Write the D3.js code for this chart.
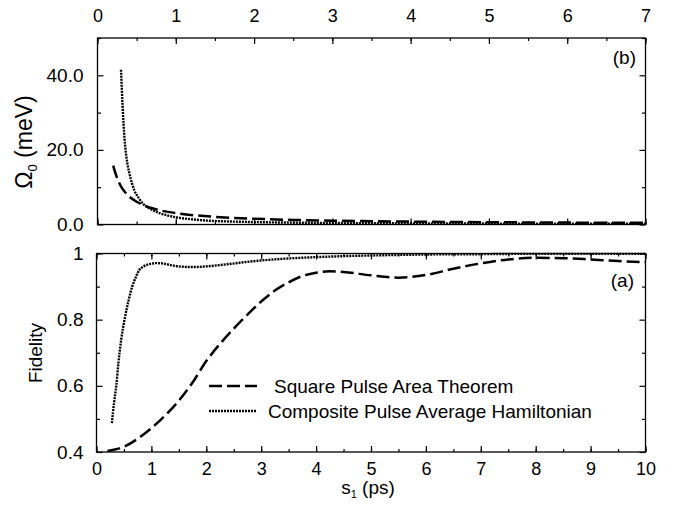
<!DOCTYPE html>
<html lang="en">
<head>
<meta charset="UTF-8">
<title>Fidelity and Omega0 vs s1</title>
<script src="https://cdn.jsdelivr.net/npm/d3@7/dist/d3.min.js"></script>
<style>
    body { margin: 0; background: #fff; }
    svg text { font-family: "Liberation Sans", Arial, Helvetica, sans-serif; fill: #000; }
</style>
</head>
<body>
<div id="chart"></div>
<script>
const width = 681;
const height = 512;

// panel (b): Omega_0 vs s1
const sqOmegaS   = [0.2, 0.25, 0.3, 0.35, 0.4, 0.5, 0.6, 0.7, 0.8, 1.0, 1.25, 1.5, 2.0, 2.5, 3.0, 3.5, 4.0, 4.5, 5.0, 5.5, 6.0, 6.5, 7.0];
const sqOmega    = [15.8, 12.5, 10.2, 8.7, 7.6, 6.1, 5.1, 4.35, 3.8, 3.05, 2.45, 2.05, 1.55, 1.23, 1.03, 0.88, 0.77, 0.68, 0.62, 0.56, 0.51, 0.47, 0.44];
const compOmegaS = [0.30, 0.32, 0.345, 0.37, 0.41, 0.47, 0.53, 0.58, 0.65, 0.71, 0.8, 0.9, 1.0, 1.2, 1.4, 1.7, 2.0, 2.5, 3.0, 4.0, 5.0, 6.0, 7.0];
const compOmega  = [41.5, 32, 23, 18, 13.5, 9.2, 7.0, 5.6, 4.5, 3.8, 3.0, 2.4, 1.95, 1.4, 1.05, 0.8, 0.65, 0.5, 0.4, 0.3, 0.25, 0.2, 0.18];

// panel (a): Fidelity vs s1
const sqFidS   = [0.2, 0.5, 0.8, 1.0, 1.25, 1.5, 1.75, 2.0, 2.25, 2.5, 2.75, 3.0, 3.25, 3.5, 3.75, 4.0, 4.25, 4.5, 5.0, 5.5, 6.0, 6.5, 7.0, 7.5, 8.0, 8.5, 9.0, 9.5, 10.0];
const sqFid    = [0.403, 0.416, 0.446, 0.472, 0.51, 0.555, 0.61, 0.675, 0.727, 0.773, 0.815, 0.855, 0.888, 0.913, 0.932, 0.942, 0.946, 0.944, 0.934, 0.927, 0.935, 0.954, 0.970, 0.982, 0.987, 0.986, 0.982, 0.977, 0.974];
const compFidS = [0.28, 0.32, 0.36, 0.40, 0.45, 0.51, 0.58, 0.65, 0.72, 0.78, 0.85, 0.92, 1.0, 1.09, 1.2, 1.35, 1.5, 1.75, 2.0, 2.3, 2.6, 3.0, 3.5, 4.0, 4.5, 5.0, 6.0, 7.0, 8.0, 9.0, 10.0];
const compFid  = [0.487, 0.55, 0.60, 0.67, 0.74, 0.80, 0.855, 0.90, 0.93, 0.95, 0.96, 0.966, 0.969, 0.971, 0.970, 0.965, 0.961, 0.959, 0.961, 0.966, 0.972, 0.979, 0.985, 0.989, 0.992, 0.994, 0.997, 0.998, 0.999, 0.999, 0.999];

// ticks
const topXTicks = [0, 1, 2, 3, 4, 5, 6, 7];
const omegaTicks = [0, 20, 40];
const omegaTickLabels = ["0.0", "20.0", "40.0"];
const botXTicks = [0, 1, 2, 3, 4, 5, 6, 7, 8, 9, 10];
const fidTicks = [0.4, 0.6, 0.8, 1.0];
const fidTickLabels = ["0.4", "0.6", "0.8", "1"];

const legendNames = ["Square Pulse Area Theorem", "Composite Pulse Average Hamiltonian"];

const dashStyle = "13,5";
const dotStyle = "2,1";

const svg = d3.select('#chart').append('svg')
    .attr('width', width)
    .attr('height', height);

// scales
const xB = d3.scaleLinear().domain([0, 7]).range([97.5, 645.5]);
const yB = d3.scaleLinear().domain([0, 50]).range([224.5, 38]);
const xA = d3.scaleLinear().domain([0, 10]).range([96.5, 645.5]);
const yA = d3.scaleLinear().domain([0.4, 1.0]).range([452, 253.5]);

function halves(lo, hi) {
    const out = [];
    for (let v = lo; v <= hi + 1e-9; v += 0.5) out.push(+v.toFixed(2));
    return out;
}

// inward ticks, drawn with d3 axes; domain path removed
function tickAxis(axisFn, scale, ticks, size, tr) {
    const g = svg.append('g')
        .attr('transform', tr)
        .call(axisFn(scale).tickValues(ticks).tickSize(-size).tickFormat(''));
    g.select('.domain').remove();
    g.selectAll('.tick line').attr('stroke', '#000').attr('stroke-width', 1.2);
    return g;
}

function labelAxis(axisFn, scale, ticks, labels, pad, tr, fs) {
    const g = svg.append('g')
        .attr('transform', tr)
        .call(axisFn(scale).tickValues(ticks).tickSize(-6).tickPadding(pad)
            .tickFormat((d, i) => labels[i]));
    g.attr('font-size', fs).attr('font-family', '"Liberation Sans", Arial, sans-serif');
    g.select('.domain').remove();
    g.selectAll('.tick line').attr('stroke', '#000').attr('stroke-width', 1.2);
    g.selectAll('.tick text').attr('font-size', fs).style('font-size', fs + 'px').attr('fill', '#000');
    return g;
}

// ---- panel (b)
svg.append('rect')
    .attr('x', xB(0)).attr('y', yB(50))
    .attr('width', xB(7) - xB(0)).attr('height', yB(0) - yB(50))
    .attr('fill', 'none').attr('stroke', '#000').attr('stroke-width', 1.3);

labelAxis(d3.axisTop, xB, topXTicks, topXTicks.map(String), 16, `translate(0,${yB(50)})`, 18);
tickAxis(d3.axisTop, xB, halves(0, 7), 3, `translate(0,${yB(50)})`);
tickAxis(d3.axisBottom, xB, topXTicks, 6, `translate(0,${yB(0)})`);
tickAxis(d3.axisBottom, xB, halves(0, 7), 3, `translate(0,${yB(0)})`);
labelAxis(d3.axisLeft, yB, omegaTicks, omegaTickLabels, 14, `translate(${xB(0)},0)`, 19);
tickAxis(d3.axisLeft, yB, [10, 30, 50], 3.5, `translate(${xB(0)},0)`);
tickAxis(d3.axisRight, yB, omegaTicks, 6, `translate(${xB(7)},0)`);
tickAxis(d3.axisRight, yB, [10, 30, 50], 3.5, `translate(${xB(7)},0)`);

const lineB = d3.line().x(d => xB(d[0])).y(d => yB(d[1])).curve(d3.curveMonotoneX);
svg.append('path')
    .attr('d', lineB(sqOmegaS.map((s, i) => [s, sqOmega[i]])))
    .attr('fill', 'none').attr('stroke', '#000').attr('stroke-width', 2.5)
    .attr('stroke-dasharray', dashStyle);
svg.append('path')
    .attr('d', lineB(compOmegaS.map((s, i) => [s, compOmega[i]])))
    .attr('fill', 'none').attr('stroke', '#000').attr('stroke-width', 2.4)
    .attr('stroke-dasharray', dotStyle);

svg.append('text')
    .attr('x', 636).attr('y', 64)
    .attr('text-anchor', 'end')
    .style('font-size', '19px')
    .text('(b)');

const omLabel = svg.append('text')
    .attr('transform', 'translate(32,142) rotate(-90)')
    .attr('text-anchor', 'middle')
    .style('font-size', '23px');
omLabel.append('tspan').text('Ω');
omLabel.append('tspan').attr('dy', 5).style('font-size', '13px').text('0');
omLabel.append('tspan').attr('dy', -5).text(' (meV)');

// ---- panel (a)
svg.append('rect')
    .attr('x', xA(0)).attr('y', yA(1))
    .attr('width', xA(10) - xA(0)).attr('height', yA(0.4) - yA(1))
    .attr('fill', 'none').attr('stroke', '#000').attr('stroke-width', 1.3);

labelAxis(d3.axisBottom, xA, botXTicks, botXTicks.map(String), 10, `translate(0,${yA(0.4)})`, 18);
tickAxis(d3.axisBottom, xA, halves(0, 10), 3, `translate(0,${yA(0.4)})`);
tickAxis(d3.axisTop, xA, botXTicks, 6, `translate(0,${yA(1)})`);
tickAxis(d3.axisTop, xA, halves(0, 10), 3, `translate(0,${yA(1)})`);
labelAxis(d3.axisLeft, yA, fidTicks, fidTickLabels, 13, `translate(${xA(0)},0)`, 19);
tickAxis(d3.axisLeft, yA, [0.5, 0.7, 0.9], 3.5, `translate(${xA(0)},0)`);
tickAxis(d3.axisRight, yA, fidTicks, 6, `translate(${xA(10)},0)`);
tickAxis(d3.axisRight, yA, [0.5, 0.7, 0.9], 3.5, `translate(${xA(10)},0)`);

const lineA = d3.line().x(d => xA(d[0])).y(d => yA(d[1])).curve(d3.curveMonotoneX);
svg.append('path')
    .attr('d', lineA(sqFidS.map((s, i) => [s, sqFid[i]])))
    .attr('fill', 'none').attr('stroke', '#000').attr('stroke-width', 2.5)
    .attr('stroke-dasharray', dashStyle);
svg.append('path')
    .attr('d', lineA(compFidS.map((s, i) => [s, compFid[i]])))
    .attr('fill', 'none').attr('stroke', '#000').attr('stroke-width', 2.4)
    .attr('stroke-dasharray', dotStyle);

svg.append('text')
    .attr('x', 634).attr('y', 287)
    .attr('text-anchor', 'end')
    .style('font-size', '19px')
    .text('(a)');

svg.append('text')
    .attr('transform', 'translate(42,353) rotate(-90)')
    .attr('text-anchor', 'middle')
    .style('font-size', '19px')
    .text('Fidelity');

const sLabel = svg.append('text')
    .attr('x', 368).attr('y', 494)
    .attr('text-anchor', 'middle')
    .style('font-size', '19px');
sLabel.append('tspan').text('s');
sLabel.append('tspan').attr('dy', 4).style('font-size', '11px').text('1');
sLabel.append('tspan').attr('dy', -4).text(' (ps)');

// legend
const legY = [386, 411];
const legStyles = [{ dash: dashStyle, w: 2.5 }, { dash: dotStyle, w: 2.4 }];
legendNames.forEach((name, i) => {
    svg.append('line')
        .attr('x1', 209).attr('x2', 257)
        .attr('y1', legY[i]).attr('y2', legY[i])
        .attr('stroke', '#000').attr('stroke-width', legStyles[i].w)
        .attr('stroke-dasharray', legStyles[i].dash);
    svg.append('text')
        .attr('x', i === 0 ? 274 : 268).attr('y', legY[i] + 6.5)
        .style('font-size', '19px')
        .text(name);
});
</script>
</body>
</html>
